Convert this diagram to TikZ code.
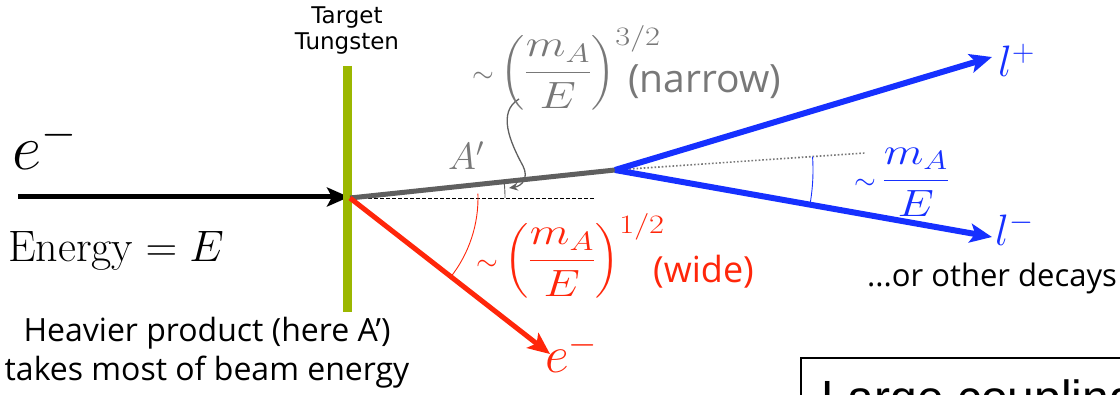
\documentclass[tikz,border=0pt]{standalone}
\usepackage{fix-cm}
\usepackage{amsmath}
\usepackage{graphicx}
\usepackage{fontspec}
\newfontfamily\notefont{Open Sans}
\newfontfamily\targetfont{DejaVu Sans}
\newfontfamily\boxfont{Liberation Sans}
\usetikzlibrary{arrows.meta}

\definecolor{targetgreen}{RGB}{155,183,0}
\definecolor{beamred}{RGB}{255,38,10}
\definecolor{decayblue}{RGB}{22,48,255}
\definecolor{aprimegray}{RGB}{95,95,95}
\definecolor{notegray}{RGB}{120,120,120}

\newcommand{\sizept}[2]{\fontsize{#1}{#2}\selectfont}
\newcommand{\smallsim}{{\sizept{28}{28}$\sim$}}
\newcommand{\widemath}[1]{\scalebox{1.22}[1]{#1}}

\tikzset{
  track/.style={line width=5pt},
  tip/.style={-{Stealth[length=22pt,width=19pt,inset=5pt]}},
  note/.style={inner sep=0pt, font=\notefont\sizept{32}{39}},
  mathlabel/.style={inner sep=0pt, font=\sizept{38}{44}},
  anglemark/.style={line width=0.9pt}
}

\begin{document}
\begin{tikzpicture}[x=1pt,y=-1pt]
    \useasboundingbox (0,0) rectangle (1120,395);
    \clip (0,0) rectangle (1120,395);

    % Points
    \coordinate (start) at (18,197);
    \coordinate (hit) at (350,198);
    \coordinate (beamend) at (349,197);
    \coordinate (decay) at (615,170);
    \coordinate (lplusend) at (992,57);
    \coordinate (lminusend) at (992,237);
    \coordinate (eoutend) at (550,354);
    \coordinate (dashend) at (595,198);
    \coordinate (dotend) at (865,153);
    \coordinate (bartop) at (347,66);
    \coordinate (barbottom) at (347,312);

    % Faisceau et cible
    \draw[track, tip] (start) -- (beamend);
    \draw[targetgreen, line width=9pt] (bartop) -- (barbottom);
    \node[inner sep=0pt, align=center, anchor=base, font=\targetfont\sizept{23}{26}] (target) at (347,50) {Target\\Tungsten};

    % Traces
    \draw[dashed, dash pattern=on 4pt off 2pt, line width=0.8pt] (hit) -- (dashend);
    \draw[notegray, dotted, line width=1.6pt] (decay) -- (dotend);
    \draw[aprimegray, track] (hit) -- (decay);
    \draw[beamred, track, tip] (hit) -- (eoutend);
    \draw[decayblue, line width=6pt, tip] (decay) -- (lplusend);
    \draw[decayblue, line width=6pt, tip] (decay) -- (lminusend);

    % Angles
    \draw[beamred, anglemark] ([shift={(-2:128)}]hit) arc[start angle=-2, end angle=38, radius=128];
    \draw[aprimegray, anglemark] ([shift={(-6:155)}]hit) arc[start angle=-6, end angle=0, radius=155];
    \draw[decayblue, anglemark] ([shift={(-3.9:198)}]decay) arc[start angle=-3.9, end angle=10.1, radius=198];
    \coordinate (curltop) at (519,99);
    \coordinate (curltip) at (509,188);
    \draw[aprimegray, line width=1.3pt, -{Stealth[length=9pt,width=8pt]}] (curltop) .. controls (497,112) and (510,142) .. (523,166) .. controls (529,178) and (522,186) .. (curltip);

    % Textes
    \node[anchor=base west, inner sep=0pt, font=\sizept{64}{64}] (ebeam) at (12,170) {$e^-$};
    \node[anchor=base west, inner sep=0pt, font=\sizept{44}{44}] (energy) at (8,262) {$\mathrm{Energy}=E$};
    \node[note, align=center, anchor=base] (heavier) at (207,381) {Heavier product (here A’)\\takes most of beam energy};
    \node[mathlabel, notegray, anchor=base] (aprime) at (466,170) {$A'$};
    \node[mathlabel, notegray, anchor=west] (narrowangle) at (472,68) {\smallsim\,\widemath{$\displaystyle\left(\frac{m_A}{E}\right)^{3/2}$}};
    \node[note, notegray, anchor=base west, font=\notefont\sizept{39}{39}] (narrow) at (628,93) {(narrow)};
    \node[mathlabel, beamred, anchor=west] (wideangle) at (476,256) {\smallsim\,\widemath{$\displaystyle\left(\frac{m_A}{E}\right)^{1/2}$}};
    \node[note, beamred, anchor=base west, font=\notefont\sizept{36}{36}] (wide) at (653,283) {(wide)};
    \node[mathlabel, decayblue, anchor=west] (decayangle) at (854,182) {\smallsim\,\widemath{$\displaystyle\frac{m_A}{E}$}};
    \node[anchor=base west, inner sep=0pt, decayblue, font=\sizept{44}{44}] (lplus) at (998,77) {$l^+$};
    \node[anchor=base west, inner sep=0pt, decayblue, font=\sizept{44}{44}] (lminus) at (995,246) {$l^-$};
    \node[anchor=base west, inner sep=0pt, beamred, font=\sizept{52}{52}] (eout) at (545,373) {$e^-$};
    \node[note, anchor=base west, font=\notefont\sizept{31}{31}] (otherdecays) at (867,287) {...or other decays};

    % Encadre
    \draw[line width=1.5pt] (801,358) rectangle (1300,500);
    \node[anchor=base west, inner sep=0pt, font=\boxfont\sizept{48}{48}] (coupling) at (821,414) {Large coupling};
\end{tikzpicture}
\end{document}
